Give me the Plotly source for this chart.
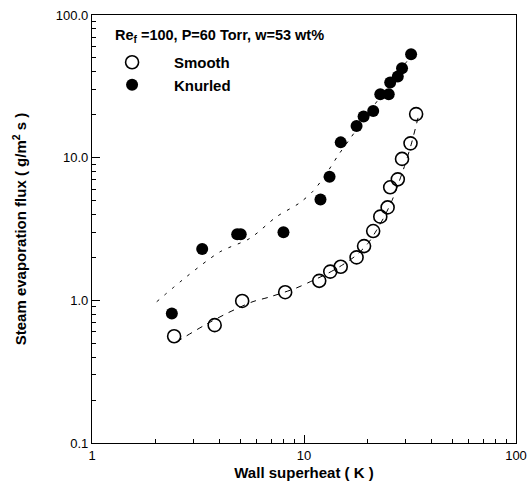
import plotly.graph_objects as go

# ---- data ----
smooth_x = [2.44, 3.79, 5.11, 8.15, 11.8, 13.3, 14.9, 17.7, 19.2, 21.2, 22.9, 24.8, 25.5, 27.7, 29.0, 31.8, 33.8]
smooth_y = [0.56, 0.67, 0.99, 1.14, 1.37, 1.59, 1.72, 2.00, 2.40, 3.06, 3.86, 4.48, 6.2, 7.05, 9.8, 12.6, 20.2]

knurled_x = [2.38, 3.31, 4.84, 5.03, 8.0, 11.96, 13.2, 14.9, 17.7, 19.1, 21.2, 22.9, 25.1, 25.5, 27.7, 29.0, 32.0]
knurled_y = [0.81, 2.29, 2.90, 2.90, 3.0, 5.1, 7.36, 12.8, 16.7, 19.4, 21.2, 27.8, 27.8, 33.7, 37.0, 42.3, 53.0]

smooth_fit_x = [2.5, 3.4, 4.4, 5.75, 6.8, 9.2, 10.7, 13.0, 15.0, 17.5, 20.0, 22.0, 24.0, 26.0, 28.0, 30.0, 32.0, 34.5]
smooth_fit_y = [0.51, 0.67, 0.82, 0.98, 1.05, 1.22, 1.35, 1.55, 1.75, 2.05, 2.5, 3.1, 3.9, 5.0, 6.7, 9.0, 12.3, 19.0]

knurled_fit_x = [2.02, 2.8, 4.02, 5.56, 7.43, 9.5, 11.0, 12.5, 14.5, 16.5, 20.0, 25.0, 32.2]
knurled_fit_y = [0.978, 1.47, 2.19, 2.72, 3.86, 4.8, 5.8, 7.4, 10.4, 13.6, 20.3, 31.7, 52.4]

x_tickvals = [1, 10, 100]
x_ticktext = ["1", "10", "100"]
y_tickvals = [0.1, 1, 10, 100]
y_ticktext = ["0.1", "1.0", "10.0", "100.0"]

legend_title = "<b>Re<sub>f</sub> =100, P=60 Torr, w=53 wt%</b>"
name_smooth = "\u00a0\u00a0\u00a0\u00a0\u00a0<b>Smooth</b>"
name_knurled = "\u00a0\u00a0\u00a0\u00a0\u00a0<b>Knurled</b>"
x_title = "<b>Wall superheat ( K )</b>"
y_title = "<b>Steam evaporation flux ( g/m<sup>2</sup> s )</b>"

minor_x = [2, 3, 4, 5, 6, 7, 8, 9, 20, 30, 40, 50, 60, 70, 80, 90]
minor_y = [0.2, 0.3, 0.4, 0.5, 0.6, 0.7, 0.8, 0.9, 2, 3, 4, 5, 6, 7, 8, 9,
           20, 30, 40, 50, 60, 70, 80, 90]

FONT = "Liberation Sans, Arial, sans-serif"

fig = go.Figure()
fig.add_trace(go.Scatter(x=knurled_fit_x, y=knurled_fit_y, mode="lines",
                         line=dict(color="black", width=1, dash="3px,7px", shape="spline", smoothing=0.8),
                         showlegend=False, hoverinfo="skip"))
fig.add_trace(go.Scatter(x=smooth_fit_x, y=smooth_fit_y, mode="lines",
                         line=dict(color="black", width=1, dash="6px,6px", shape="spline", smoothing=0.8),
                         showlegend=False, hoverinfo="skip"))
fig.add_trace(go.Scatter(x=smooth_x, y=smooth_y, mode="markers", name=name_smooth,
                         marker=dict(symbol="circle-open", size=13, color="black",
                                     line=dict(width=1.6, color="black"))))
fig.add_trace(go.Scatter(x=knurled_x, y=knurled_y, mode="markers", name=name_knurled,
                         marker=dict(symbol="circle", size=12, color="black")))

axis_common = dict(
    type="log", showgrid=False, zeroline=False,
    showline=True, linecolor="black", linewidth=1.2, mirror=True,
    ticks="inside", ticklen=8, tickwidth=1, tickcolor="black",
    tickfont=dict(family=FONT, size=13, color="black"),
)

fig.update_xaxes(**axis_common, range=[0, 2], tickvals=x_tickvals, ticktext=x_ticktext,
                 minor=dict(tickvals=minor_x, ticks="inside", ticklen=4, tickwidth=1, tickcolor="black"),
                 title=dict(text=x_title, font=dict(family=FONT, size=15, color="black"), standoff=6))
fig.update_yaxes(**axis_common, range=[-1, 2], tickvals=y_tickvals, ticktext=y_ticktext,
                 minor=dict(tickvals=minor_y, ticks="inside", ticklen=4, tickwidth=1, tickcolor="black"),
                 title=dict(text=y_title, font=dict(family=FONT, size=15, color="black"), standoff=25))

fig.add_annotation(text=legend_title, xref="paper", yref="paper",
                   x=0.0486, y=0.951, xanchor="left", yanchor="middle", showarrow=False,
                   font=dict(family=FONT, size=14.5, color="black"))

fig.update_layout(
    width=527, height=481,
    margin=dict(l=92, r=11, t=15, b=38, autoexpand=False),
    paper_bgcolor="white", plot_bgcolor="white",
    font=dict(family=FONT, color="black"),
    legend=dict(
        font=dict(family=FONT, size=15, color="black"),
        x=0.045, y=0.9276, xanchor="left", yanchor="top",
        bgcolor="rgba(0,0,0,0)", borderwidth=0, itemwidth=32,
        tracegroupgap=0,
    ),
)

fig.write_html("out.html")
